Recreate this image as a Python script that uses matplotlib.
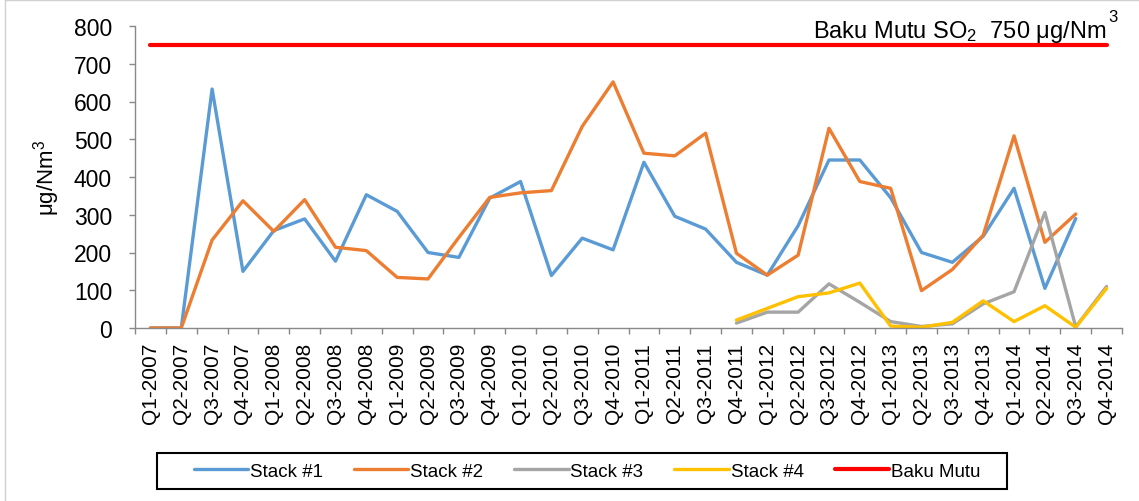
import numpy as np
import matplotlib
matplotlib.use("Agg")
import matplotlib.pyplot as plt
from matplotlib.lines import Line2D
from matplotlib.patches import Rectangle

plt.rcParams["font.family"] = ["Liberation Sans", "DejaVu Sans"]
plt.rcParams["mathtext.fontset"] = "custom"
plt.rcParams["mathtext.rm"] = "Liberation Sans"
plt.rcParams["mathtext.it"] = "Liberation Sans"

nan = np.nan

quarters = [f"Q{q}-{y}" for y in range(2007, 2015) for q in range(1, 5)]

stack1 = [0, 0, 633, 150, 258, 289, 177, 353, 309, 200, 187, 344,
          388, 139, 238, 207, 439, 296, 262, 174, 140, 271, 445, 445,
          345, 200, 174, 243, 370, 105, 290, nan]
stack2 = [0, 0, 233, 337, 256, 340, 214, 205, 134, 130, 240, 346,
          358, 364, 534, 652, 463, 456, 516, 198, 140, 193, 529, 388,
          370, 99, 155, 246, 509, 227, 302, nan]
stack3 = [nan, nan, nan, nan, nan, nan, nan, nan, nan, nan, nan, nan,
          nan, nan, nan, nan, nan, nan, nan, 13, 42, 42, 117, 68,
          17, 4, 11, 64, 96, 306, 3, 110]
stack4 = [nan, nan, nan, nan, nan, nan, nan, nan, nan, nan, nan, nan,
          nan, nan, nan, nan, nan, nan, nan, 21, 52, 83, 93, 119,
          5, 2, 15, 72, 17, 59, 2, 105]
baku_mutu = [750] * len(quarters)

series = [
    ("Stack #1", stack1, "#5B9BD5", 2.4),
    ("Stack #2", stack2, "#ED7D31", 2.4),
    ("Stack #3", stack3, "#A5A5A5", 2.4),
    ("Stack #4", stack4, "#FFC000", 2.4),
    ("Baku Mutu", baku_mutu, "#FF0000", 3.0),
]

W, H = 1139, 502
fig = plt.figure(figsize=(W / 100, H / 100), dpi=100)
ax = fig.add_axes([135 / W, 1 - 329 / H, (1122 - 135) / W, (329 - 27) / H])

x = np.arange(len(quarters))
for name, vals, color, lw in series:
    ax.plot(x, vals, color=color, lw=lw, label=name,
            solid_capstyle="round", solid_joinstyle="round")

ax.set_xlim(-0.5, len(quarters) - 0.5)
ax.set_ylim(0, 800)
ax.set_yticks(range(0, 801, 100))
ax.set_xticks(x)
ax.set_xticklabels(quarters, rotation=90, fontsize=15)
ax.set_xticks(np.arange(-0.5, len(quarters), 1), minor=True)
ax.tick_params(axis="x", which="major", length=0, pad=10)
ax.tick_params(axis="x", which="minor", length=4.5, width=1, color="#898989")
ax.tick_params(axis="y", length=4.5, width=1, color="#898989", pad=12, labelsize=16.5)

for side in ["top", "right"]:
    ax.spines[side].set_visible(False)
for side in ["left", "bottom"]:
    ax.spines[side].set_color("#898989")
    ax.spines[side].set_linewidth(1)

ax.set_ylabel(r"μg/Nm$^3$", fontsize=16)
ax.yaxis.set_label_coords(-0.074, 0.5)

ax.text(31, 751, r"Baku Mutu SO$_2$  750 μg/Nm", ha="right", va="bottom", fontsize=17)
fig.text(1113 / W, 1 - 18 / H, "3", ha="center", va="center", fontsize=12)

# legend without its own frame, box drawn separately
fig.legend(loc="center", bbox_to_anchor=(587 / W, 1 - 472 / H), ncol=5,
           fontsize=13.5, handlelength=2.9, handletextpad=0.1, columnspacing=1.65,
           frameon=False)
fig.add_artist(Rectangle((157 / W, 1 - 490 / H), (1007 - 157) / W, 36 / H,
                         transform=fig.transFigure, fill=False,
                         edgecolor="black", lw=1.5))

fig.add_artist(Line2D([5 / W, 5 / W], [0, 1 - 1 / H], transform=fig.transFigure,
                      color="#D0D0D0", lw=1))
fig.add_artist(Line2D([5 / W, 1], [1 - 1 / H, 1 - 1 / H], transform=fig.transFigure,
                      color="#D0D0D0", lw=1))

fig.savefig("out.png", dpi=100)
